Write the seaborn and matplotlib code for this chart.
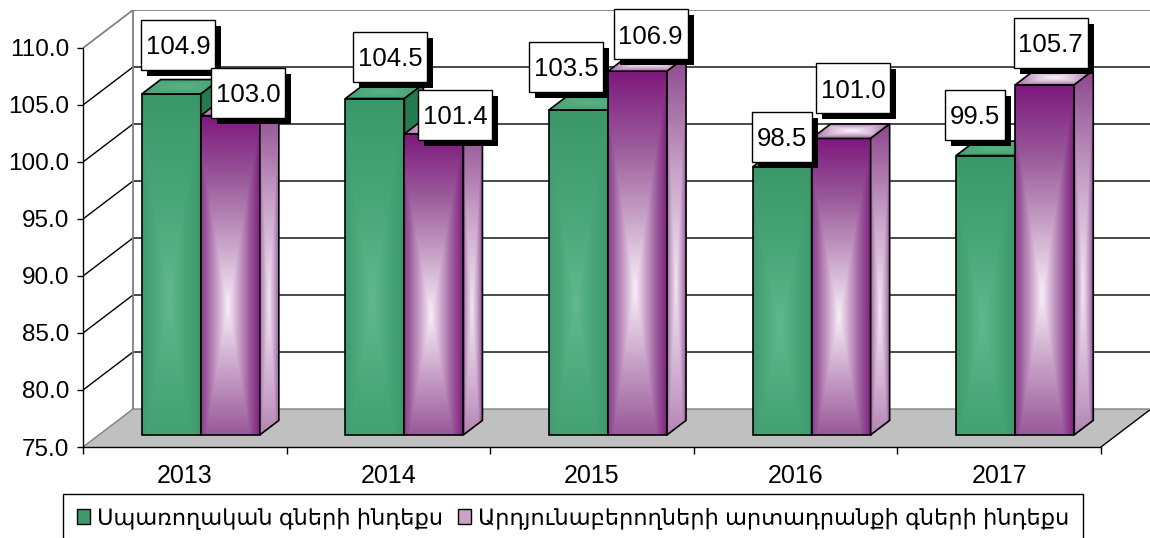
import numpy as np
import pandas as pd
import seaborn as sns
import matplotlib.pyplot as plt
from matplotlib.patches import Polygon, Rectangle, Patch
from matplotlib.colors import LinearSegmentedColormap
from matplotlib.transforms import ScaledTranslation

# data
years = ['2013', '2014', '2015', '2016', '2017']
series = ['Սպառողական գների ինդեքս', 'Արդյունաբերողների արտադրանքի գների ինդեքս']
consumer = [104.9, 104.5, 103.5, 98.5, 99.5]
producer = [103.0, 101.4, 106.9, 101.0, 105.7]
y_ticks = [75, 80, 85, 90, 95, 100, 105, 110]

# label nudges in pixels, Excel shuffled the boxes around a bit
lab_dx = [[7, 15, -12, 0, -11], [18, 21, 13, 12, 6]]
lab_dy = [[49, 42, 43, 30, 41], [23, 19, 37, 50, 42]]

df = pd.DataFrame({
    'year': years * 2,
    'series': [series[0]] * len(years) + [series[1]] * len(years),
    'value': consumer + producer,
})

sns.set_style('white')
plt.rcParams['font.family'] = ['Liberation Sans', 'DejaVu Sans']
for k in ['text.color', 'xtick.color', 'ytick.color', 'axes.labelcolor', 'axes.edgecolor']:
    plt.rcParams[k] = 'black'

fig = plt.figure(figsize=(11.5, 5.38), dpi=100)
ax = fig.add_axes([83 / 1150, 91 / 538, 1068 / 1150, 437 / 538])

sns.barplot(data=df, x='year', y='value', hue='series', hue_order=series,
            palette=['#3d9a6a', '#a060a0'], width=0.58, errorbar=None,
            legend=False, ax=ax)
bars = list(ax.patches)

# fake 3d box
Y0, Y1 = 75, 110
X0, X1 = -0.5, len(years) - 0.5
DX, DY = 0.2456, 3.333          # full depth of the box
BX, BY = 0.32 * DX, 0.32 * DY   # where the bar fronts stand
SX, SY = 0.38 * DX, 0.38 * DY   # bar depth
GREY = '#808080'

ax.add_patch(Polygon([(X0, Y0), (X1, Y0), (X1 + DX, Y0 + DY), (X0 + DX, Y0 + DY)],
                     closed=True, fc='#c0c0c0', ec='none', zorder=0.5))
ax.plot([X1, X1 + DX], [Y0, Y0 + DY], color='black', lw=1, zorder=0.7)
ax.plot([X0, X0 + DX, X1 + DX], [Y0, Y0 + DY, Y0 + DY], color=GREY, lw=1, zorder=0.7)
for v in y_ticks[1:-1]:
    ax.plot([X0, X0 + DX, X1 + DX], [v, v + DY, v + DY], color='black', lw=1, zorder=0.7)
ax.plot([X0, X0 + DX, X1 + DX], [Y1, Y1 + DY, Y1 + DY], color=GREY, lw=1.3, zorder=0.7)
ax.plot([X0 + DX, X0 + DX], [Y0 + DY, Y1 + DY], color=GREY, lw=1.3, zorder=0.7)


def gradient(colors, cu, cv, n=80):
    g = np.linspace(0, 1, n)
    U, V = np.meshgrid(g, g)
    t = np.maximum(np.abs(U - cu) / max(cu, 1 - cu), np.abs(V - cv) / max(cv, 1 - cv))
    return LinearSegmentedColormap.from_list('g', colors)(t)


def paint(patch, pts, colors, cu, cv, z):
    pts = np.array(pts)
    im = ax.imshow(gradient(colors, cu, cv),
                   extent=(pts[:, 0].min(), pts[:, 0].max(), pts[:, 1].min(), pts[:, 1].max()),
                   origin='lower', aspect='auto', interpolation='bilinear', zorder=z)
    im.set_clip_path(patch)


front_cols = [['#62b88e', '#48a679', '#3a9868'], ['#f8eef8', '#c8a2c8', '#9a5a9a', '#7e1a7e']]
top_cols = [['#5cb286', '#44a273'], ['#fbf4fb', '#d9bcd9', '#a56ca5']]
side_cols = [['#2f8a5c', '#257a4f'], ['#f2e6f2', '#c8a2c8', '#8e4a8e']]
values = [consumer, producer]

for p in bars:
    cx = p.get_x() + p.get_width() / 2
    si = 0 if cx < round(cx) else 1
    i = int(round(cx))
    val = values[si][i]
    z = 2 + si
    p.set_x(p.get_x() + BX)
    p.set_y(Y0 + BY)
    p.set_height(val - Y0)
    p.set_facecolor('none')
    p.set_edgecolor('black')
    p.set_linewidth(1.2)
    p.set_zorder(z + 0.05)
    x, w, t = p.get_x(), p.get_width(), val + BY
    paint(p, [(x, Y0 + BY), (x + w, t)], front_cols[si], 0.45, 0.4, z)

    # top face first, then the side
    top = [(x, t), (x + w, t), (x + w + SX, t + SY), (x + SX, t + SY)]
    side = [(x + w, Y0 + BY), (x + w + SX, Y0 + BY + SY), (x + w + SX, t + SY), (x + w, t)]
    faces = [(top, top_cols[si], 0.5, 0.5), (side, side_cols[si], 0.45, 0.4)]
    for k, (pts, cols, cu, cv) in enumerate(faces):
        poly = Polygon(pts, closed=True, fc='none', ec='black', lw=1.2, zorder=z + 0.15 + 0.1 * k)
        ax.add_patch(poly)
        paint(poly, pts, cols, cu, cv, z + 0.1 + 0.1 * k)

    # data label with hard shadow
    s = f'{val:.1f}'
    bw, bh = 14 * len(s) + 4, 50
    dx, dy = lab_dx[si][i], lab_dy[si][i]
    tr = ScaledTranslation(x + w / 2, t, ax.transData)
    zl = 5 + si
    ax.add_patch(Rectangle((dx - bw / 2 + 6, dy - bh / 2 - 6), bw, bh, transform=tr,
                           fc='black', ec='none', zorder=zl, clip_on=False))
    ax.add_patch(Rectangle((dx - bw / 2, dy - bh / 2), bw, bh, transform=tr,
                           fc='white', ec='black', lw=1, zorder=zl + 0.1, clip_on=False))
    ax.annotate(s, (x + w / 2, t), xytext=(dx, dy), textcoords='offset pixels',
                ha='center', va='center_baseline', fontsize=18.5, color='black', zorder=zl + 0.2)

# axes
ax.set_xlim(X0, X1 + DX)
ax.set_ylim(Y0, Y1 + DY)
ax.set_yticks(y_ticks, [f'{v:.1f}' for v in y_ticks])
ax.set_xticks(np.arange(len(years) + 1) - 0.5, [''] * (len(years) + 1))
ax.set_xticks(range(len(years)), years, minor=True)
ax.tick_params(axis='x', which='minor', bottom=True, length=0, pad=12, labelsize=18, labelcolor='black')
ax.tick_params(axis='x', which='major', bottom=True, length=5, width=1, color='black')
ax.tick_params(axis='y', left=True, length=4, width=1, pad=6, labelsize=17.5, color='black', labelcolor='black')
ax.set_xlabel('')
ax.set_ylabel('')
for sp in ['top', 'right']:
    ax.spines[sp].set_visible(False)
for sp in ['left', 'bottom']:
    ax.spines[sp].set_color('black')
    ax.spines[sp].set_linewidth(1)
ax.spines['left'].set_bounds(Y0, Y1)
ax.spines['bottom'].set_bounds(X0, X1)
ax.grid(False)

handles = [Patch(fc='#3d9a6a', ec='black', lw=1), Patch(fc='#c8a2c8', ec='black', lw=1)]
leg = fig.legend(handles, series, loc='upper left', bbox_to_anchor=(63 / 1150, 1 - 494 / 538),
                 ncol=2, frameon=True, fancybox=False, edgecolor='black', fontsize=16.2,
                 handlelength=0.6, handleheight=0.65, handletextpad=0.3, columnspacing=0.65,
                 borderpad=0.6, borderaxespad=0, labelcolor='black')
leg.get_frame().set_linewidth(1)
leg.get_frame().set_alpha(1)

fig.savefig('out.png', dpi=100)
